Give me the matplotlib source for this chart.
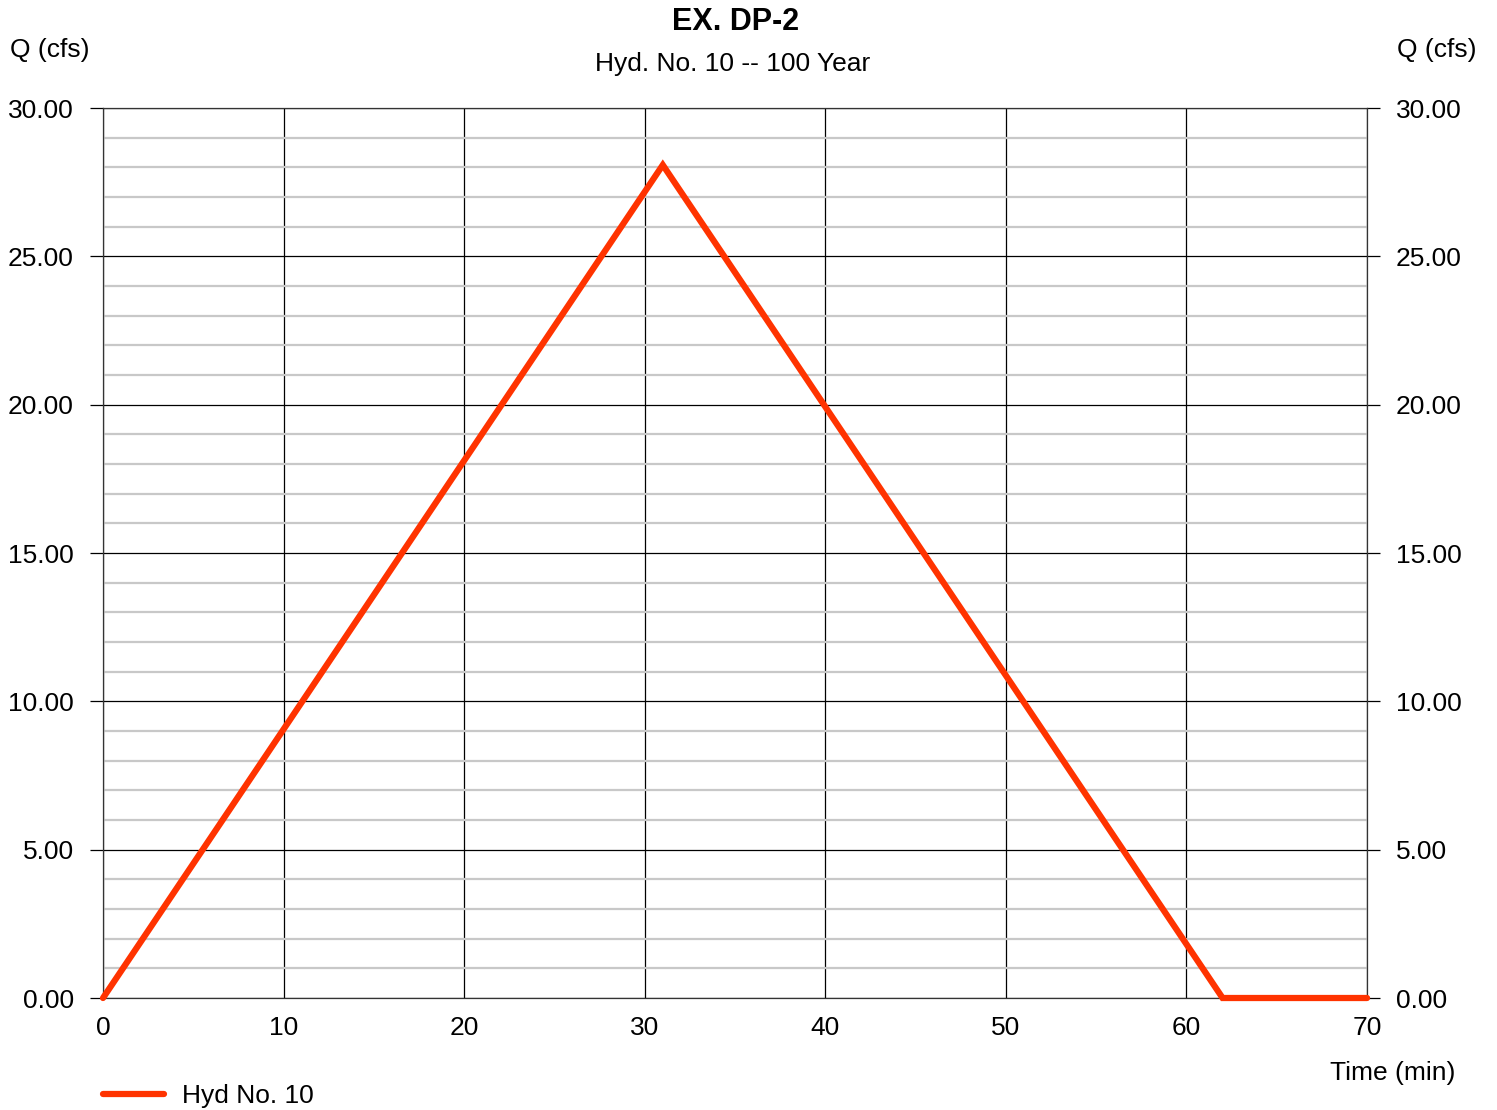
import matplotlib
matplotlib.use("Agg")
import matplotlib.pyplot as plt
from matplotlib.ticker import MultipleLocator, FormatStrFormatter

plt.rcParams['font.family'] = ['Liberation Sans', 'DejaVu Sans']

# hydrograph points (min, cfs)
time_min = [0, 31, 62, 70]
flow_cfs = [0.0, 28.08, 0.0, 0.0]

title = "EX. DP-2"
subtitle = "Hyd. No. 10 -- 100 Year"
series_name = "Hyd No. 10"

fig = plt.figure(figsize=(14.97, 11.10), dpi=100)
ax = fig.add_axes([0.0688, 0.1009, 0.8444, 0.8018])

ax.set_xlim(0, 70)
ax.set_ylim(0, 30)

ax.yaxis.set_major_locator(MultipleLocator(5))
ax.yaxis.set_minor_locator(MultipleLocator(1))
ax.xaxis.set_major_locator(MultipleLocator(10))
ax.yaxis.set_major_formatter(FormatStrFormatter('%.2f'))

ax.grid(True, which='minor', axis='y', color='#c8c8c8', lw=1.6, zorder=0)
ax.grid(True, which='major', axis='both', color='black', lw=0.9, zorder=1)

ax.plot(time_min, flow_cfs, color='#ff3300', lw=4.5, solid_capstyle='round',
        solid_joinstyle='miter', zorder=3, clip_on=False, label=series_name)

for s in ax.spines.values():
    s.set_linewidth(0.9)
    s.set_color('#333333')

ax.tick_params(axis='y', which='major', length=9.4, width=0.9, pad=11.5,
               labelsize=19, left=True, right=True, labelleft=True, labelright=True)
ax.tick_params(axis='y', which='minor', length=0)
ax.tick_params(axis='x', length=0, pad=13, labelsize=19)

fig.text(0.4913, 0.980, title, ha='center', va='center', fontsize=22, fontweight='bold')
fig.text(0.4896, 0.942, subtitle, ha='center', va='center', fontsize=19)
fig.text(0.0334, 0.955, "Q (cfs)", ha='center', va='center', fontsize=19)
fig.text(0.9599, 0.955, "Q (cfs)", ha='center', va='center', fontsize=19)
fig.text(0.9305, 0.0333, "Time (min)", ha='center', va='center', fontsize=19)

fig.legend(loc='center left', bbox_to_anchor=(0.053, 0.0125), frameon=False,
           fontsize=19, handlelength=2.3, handletextpad=0.7)

fig.savefig("out.png", dpi=100)
